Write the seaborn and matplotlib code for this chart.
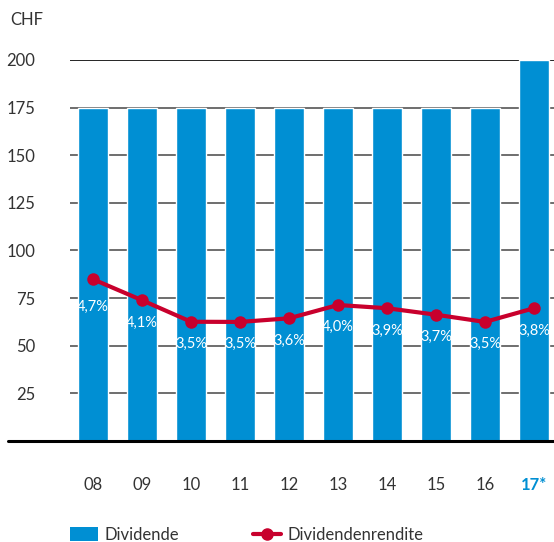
import numpy as np
import pandas as pd
import matplotlib
matplotlib.use("Agg")
import matplotlib.pyplot as plt
import seaborn as sns
from matplotlib.patches import Patch
from matplotlib.lines import Line2D

# data
years = ["08", "09", "10", "11", "12", "13", "14", "15", "16", "17*"]
dividende = [175, 175, 175, 175, 175, 175, 175, 175, 175, 200]
# yield plotted on the CHF scale (position of the red points)
rendite_pos = [84.9, 73.9, 62.6, 62.5, 64.4, 71.4, 69.7, 66.3, 62.5, 69.7]
rendite_labels = ["4,7%", "4,1%", "3,5%", "3,5%", "3,6%", "4,0%", "3,9%", "3,7%", "3,5%", "3,8%"]
y_ticks = [25, 50, 75, 100, 125, 150, 175, 200]

BLUE = "#008fd3"
RED = "#c8002d"
TEXT = "#333333"

sns.set_style("white")
plt.rcParams["font.family"] = ["Lato", "DejaVu Sans"]

df = pd.DataFrame({"year": years, "dividende": dividende})

fig = plt.figure(figsize=(5.54, 5.42), dpi=100)
ax = fig.add_axes([70 / 554, 101 / 542, 484 / 554, 381 / 542])

for t in y_ticks:
    ax.axhline(t, color="black" if t == 200 else "#555555", lw=1.2, zorder=0)

sns.barplot(data=df, x="year", y="dividende", color=BLUE, saturation=1,
            width=0.61, ax=ax, zorder=2)

sns.lineplot(x=np.arange(len(years)), y=rendite_pos, color=RED, lw=3,
             marker="o", markersize=9, markeredgewidth=0, ax=ax, zorder=3)

for i, (v, lab) in enumerate(zip(rendite_pos, rendite_labels)):
    off = -20 if i == 0 else -16
    ax.annotate(lab, (i, v), xytext=(0, off), textcoords="offset points",
                ha="center", va="center", color="white", fontsize=10.5, zorder=4)

ax.set_xlim(-0.469, -0.469 + 484 / 49)
ax.set_ylim(0, 200)
ax.set_yticks(y_ticks)
ax.set_xlabel("")
ax.set_ylabel("")
ax.tick_params(axis="y", length=0, pad=25, labelsize=12, labelcolor=TEXT)
ax.tick_params(axis="x", length=0, pad=26, labelsize=12, labelcolor=TEXT)
for s in ax.spines.values():
    s.set_visible(False)

lab17 = ax.get_xticklabels()[-1]
lab17.set_color(BLUE)
lab17.set_fontweight("bold")

ax.axhline(0, xmin=-62 / 484, xmax=1, color="black", lw=2.2, clip_on=False, zorder=5)

fig.text(10 / 554, 1 - 20 / 542, "CHF", ha="left", va="center", fontsize=12, color=TEXT)

handles = [Patch(facecolor=BLUE, edgecolor="none"),
           Line2D([0], [0], color=RED, lw=3, marker="o", markersize=8)]
fig.legend(handles, ["Dividende", "Dividendenrendite"], loc="center left",
           bbox_to_anchor=(70 / 554, 1 - 535 / 542), ncol=2, frameon=False,
           borderpad=0, borderaxespad=0,
           fontsize=12, labelcolor=TEXT, handlelength=1.7, handleheight=0.9,
           columnspacing=4.4, handletextpad=0.4)

fig.savefig("out.png", dpi=100)
